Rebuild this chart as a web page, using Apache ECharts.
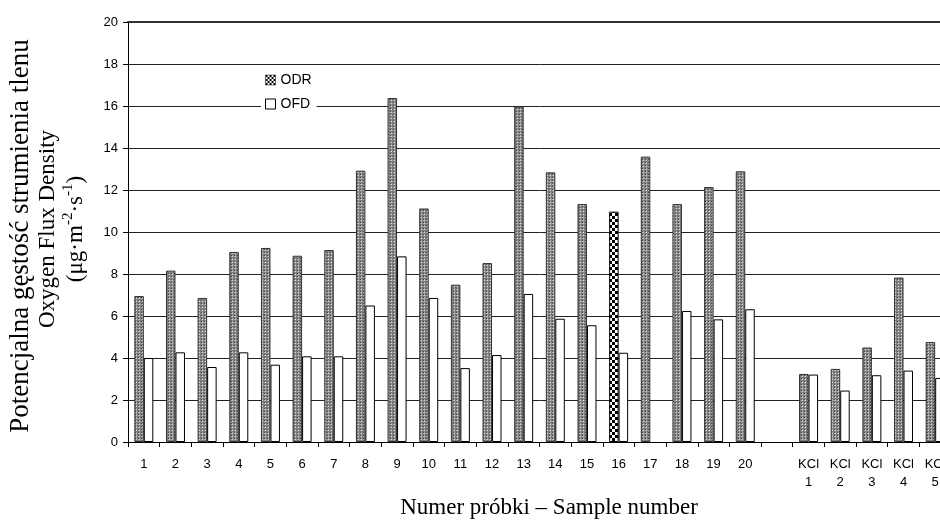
<!DOCTYPE html>
<html>
<head>
<meta charset="utf-8">
<script src="https://cdn.jsdelivr.net/npm/echarts@6/dist/echarts.min.js"></script>
<style>
html,body{margin:0;padding:0;background:#fff;overflow:hidden;width:940px;height:520px;}
#chart{width:951px;height:520px;}
</style>
</head>
<body>
<div id="chart"></div>
<script>
const categories = ['1','2','3','4','5','6','7','8','9','10','11','12','13','14','15','16','17','18','19','20','','KCl\n1','KCl\n2','KCl\n3','KCl\n4','KCl\n5'];
const odrValues = [6.95,8.16,6.86,9.05,9.24,8.87,9.14,12.92,16.38,11.12,7.49,8.52,15.98,12.84,11.33,10.97,13.59,11.33,12.14,12.89,null,3.24,3.48,4.50,7.83,4.76];
const ofdValues = [4.00,4.27,3.57,4.27,3.68,4.08,4.08,6.50,8.84,6.86,3.52,4.14,7.05,5.87,5.56,4.25,null,6.24,5.84,6.32,null,3.21,2.45,3.18,3.40,3.05];
const seriesNames = ['ODR','OFD'];
const highlightIndex = 15; // sample 16 drawn with checker pattern
const yMin = 0, yMax = 20, yInterval = 2;

function makeTile(size, draw){
  const c = document.createElement('canvas');
  c.width = size; c.height = size;
  const ctx = c.getContext('2d');
  draw(ctx);
  return c;
}
const grayDots = makeTile(3, function(ctx){
  ctx.fillStyle = '#7e7e7e'; ctx.fillRect(0,0,3,3);
  ctx.fillStyle = '#d4d4d4'; ctx.fillRect(1,1,1,1);
  ctx.fillStyle = '#a8a8a8'; ctx.fillRect(0,1,1,1); ctx.fillRect(1,0,1,1);
  ctx.fillStyle = '#444'; ctx.fillRect(0,0,1,1);
});
const checker = makeTile(6, function(ctx){
  ctx.fillStyle = '#ffffff'; ctx.fillRect(0,0,6,6);
  ctx.fillStyle = '#000000'; ctx.fillRect(0,0,3,3); ctx.fillRect(3,3,3,3);
});
const legendChecker = makeTile(4, function(ctx){
  ctx.fillStyle = '#ffffff'; ctx.fillRect(0,0,4,4);
  ctx.fillStyle = '#000000'; ctx.fillRect(0,0,2,2); ctx.fillRect(2,2,2,2);
});
const grayPattern = {image: grayDots, repeat: 'repeat'};
const checkerPattern = {image: checker, repeat: 'repeat'};
const legendPattern = {image: legendChecker, repeat: 'repeat'};

const odrData = odrValues.map(function(v, i){
  if (i === highlightIndex) {
    return {value: v, itemStyle: {color: checkerPattern, borderColor: '#000', borderWidth: 1}};
  }
  return v;
});

const serif = '"Liberation Serif"';
const chart = echarts.init(document.getElementById('chart'), null, {renderer: 'canvas'});
chart.setOption({
  animation: false,
  backgroundColor: '#fff',
  grid: {left: 128, top: 22, height: 420, width: 823, containLabel: false},
  legend: {
    orient: 'vertical',
    left: 261, top: 70,
    itemWidth: 10, itemHeight: 10, itemGap: 10,
    icon: 'rect',
    padding: [3, 5, 3, 4],
    backgroundColor: '#fff',
    textStyle: {fontFamily: 'Liberation Sans', fontSize: 14, color: '#000'},
    data: [
      {name: 'ODR', itemStyle: {color: legendPattern, borderColor: '#000', borderWidth: 0.5}},
      {name: 'OFD', itemStyle: {color: '#fff', borderColor: '#000', borderWidth: 1}}
    ]
  },
  xAxis: [{
    type: 'category',
    data: categories,
    axisLine: {lineStyle: {color: '#000', width: 1}},
    axisTick: {show: true, length: 5, lineStyle: {color: '#000'}},
    axisLabel: {fontFamily: 'Liberation Sans', fontSize: 13, color: '#000', margin: 13, lineHeight: 18, interval: 0}
  }, {
    type: 'category',
    position: 'top',
    data: categories,
    axisLine: {show: true, lineStyle: {color: '#333', width: 2}},
    axisTick: {show: false},
    axisLabel: {show: false}
  }],
  yAxis: {
    type: 'value',
    min: yMin, max: yMax, interval: yInterval,
    axisLine: {show: true, lineStyle: {color: '#000', width: 1}},
    axisTick: {show: true, length: 5, lineStyle: {color: '#000'}},
    axisLabel: {fontFamily: 'Liberation Sans', fontSize: 13, color: '#000', margin: 10},
    splitLine: {show: true, lineStyle: {color: '#222', width: 1}}
  },
  series: [{
    name: seriesNames[0],
    type: 'bar',
    data: odrData,
    barWidth: '30%',
    barGap: '0%',
    itemStyle: {color: grayPattern, borderColor: '#333', borderWidth: 1}
  }, {
    name: seriesNames[1],
    type: 'bar',
    data: ofdValues,
    barWidth: '30%',
    barGap: '0%',
    itemStyle: {color: '#fff', borderColor: '#000', borderWidth: 1}
  }],
  graphic: [{
    type: 'text',
    x: 21, y: 236,
    rotation: Math.PI / 2,
    style: {
      text: 'Potencjalna gęstość strumienia tlenu',
      font: '27px ' + serif,
      fill: '#000',
      align: 'center', verticalAlign: 'middle'
    }
  }, {
    type: 'text',
    x: 48, y: 229,
    rotation: Math.PI / 2,
    style: {
      text: 'Oxygen Flux Density',
      font: '23px ' + serif,
      fill: '#000',
      align: 'center', verticalAlign: 'middle'
    }
  }, {
    type: 'text',
    x: 74, y: 229,
    rotation: Math.PI / 2,
    style: {
      text: '{n|(μg·m}{s|-2}{n|·s}{s|-1}{n|)}',
      align: 'center', verticalAlign: 'middle',
      rich: {
        n: {font: '23px ' + serif, fill: '#000', lineHeight: 26, verticalAlign: 'bottom'},
        s: {font: '15px ' + serif, fill: '#000', lineHeight: 26, verticalAlign: 'top'}
      }
    }
  }, {
    type: 'text',
    x: 549, y: 508,
    style: {
      text: 'Numer próbki – Sample number',
      font: '23px ' + serif,
      fill: '#000',
      align: 'center', verticalAlign: 'middle'
    }
  }]
});
</script>
</body>
</html>
